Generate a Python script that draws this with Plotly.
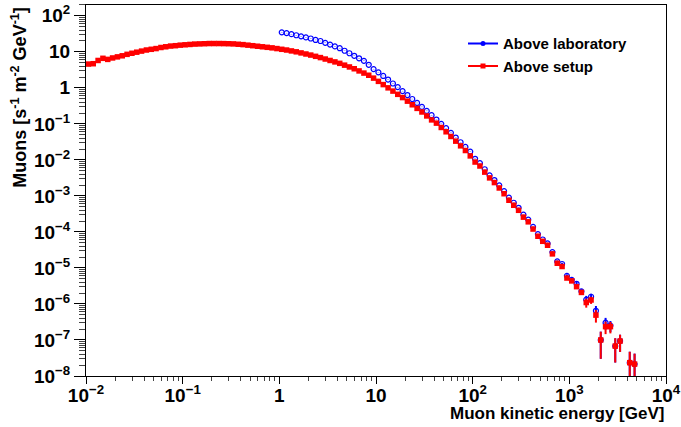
import plotly.graph_objects as go

# ---- binning: 20 log-spaced bins per decade starting at 10^-2 GeV ----
LOG_E_MIN = -2.0
BIN_WIDTH = 0.05
N_BINS = 114
bin_centers = [10 ** (LOG_E_MIN + BIN_WIDTH * (k + 0.5)) for k in range(N_BINS)]

# ---- "Above setup" (red), log10 of flux, bins 0..113 ----
setup_log = [
    0.66, 0.67, 0.76, 0.82, 0.79, 0.83, 0.86, 0.89, 0.93, 0.96,
    0.99, 1.02, 1.05, 1.07, 1.09, 1.12, 1.14, 1.16, 1.17, 1.185,
    1.195, 1.205, 1.215, 1.22, 1.225, 1.23, 1.23, 1.23, 1.228, 1.225,
    1.22, 1.21, 1.20, 1.185, 1.17, 1.155, 1.14, 1.125, 1.11, 1.09,
    1.07, 1.05, 1.025, 1.00, 0.97, 0.94, 0.91, 0.875, 0.84, 0.80,
    0.76, 0.72, 0.68, 0.63, 0.58, 0.53, 0.47, 0.41, 0.35, 0.27,
    0.18, 0.09, 0.00, -0.09, -0.18, -0.27, -0.37, -0.47, -0.57, -0.67,
    -0.78, -0.89, -0.98, -1.10, -1.22, -1.35, -1.48, -1.61, -1.74, -1.89,
    -2.06, -2.17, -2.34, -2.50, -2.63, -2.78, -2.94, -3.12, -3.26, -3.40,
    -3.59, -3.72, -3.92, -4.12, -4.26, -4.37, -4.61, -4.87, -4.96, -5.28,
    -5.36, -5.52, -5.68, -5.96, -5.89, -6.31, -7.00, -6.63, -6.63, -7.17,
    -7.03, None, -7.63, -7.67,
]
# relative statistical errors of the red points (only visible at high energy)
setup_relerr = [0.01] * 95 + [
    0.05, 0.06, 0.07, 0.08, 0.10, 0.11, 0.13, 0.15, 0.28, 0.22,
    0.38, 0.70, 0.38, 0.35, 0.65, 0.50, 0.0, 1.00, 0.95,
]

# ---- "Above laboratory" (blue), bins 40..113 ----
lab_first_bin = 40
lab_log = [
    1.54, 1.52, 1.49, 1.46, 1.43, 1.40, 1.37, 1.33, 1.30, 1.25,
    1.20, 1.15, 1.10, 1.03, 0.96, 0.89, 0.82, 0.75, 0.64, 0.52,
    0.43, 0.33, 0.23, 0.12, 0.02, -0.09, -0.20, -0.31, -0.42, -0.53,
    -0.64, -0.76, -0.88, -1.00, -1.12, -1.25, -1.38, -1.51, -1.64, -1.77,
    -1.97, -2.09, -2.26, -2.43, -2.56, -2.71, -2.87, -3.05, -3.19, -3.33,
    -3.52, -3.66, -3.86, -4.06, -4.21, -4.32, -4.56, -4.82, -4.89, -5.22,
    -5.33, -5.44, -5.65, -5.88, -5.80, -6.19, -7.00, -6.52, -6.60, -7.17,
    -7.03, None, -7.63, -7.67,
]
lab_relerr = [0.01] * 55 + [
    0.05, 0.06, 0.07, 0.08, 0.10, 0.11, 0.13, 0.15, 0.27, 0.21,
    0.36, 0.70, 0.36, 0.34, 0.65, 0.50, 0.0, 1.00, 0.95,
]

x_tickvals = [1e-2, 1e-1, 1, 10, 1e2, 1e3, 1e4]
x_ticktext = ["10<sup>−2</sup>", "10<sup>−1</sup>", "1", "10",
              "10<sup>2</sup>", "10<sup>3</sup>", "10<sup>4</sup>"]
y_tickvals = [1e-8, 1e-7, 1e-6, 1e-5, 1e-4, 1e-3, 1e-2, 1e-1, 1, 10, 1e2]
y_ticktext = ["10<sup>−8</sup>", "10<sup>−7</sup>", "10<sup>−6</sup>", "10<sup>−5</sup>",
              "10<sup>−4</sup>", "10<sup>−3</sup>", "10<sup>−2</sup>", "10<sup>−1</sup>",
              "1", "10", "10<sup>2</sup>"]

BLUE = "#0000ff"
RED = "#ff0000"
FONT = "Liberation Sans"


def to_lin(vals):
    return [None if v is None else 10 ** v for v in vals]


setup_y = to_lin(setup_log)
setup_err = [None if y is None else y * r for y, r in zip(setup_y, setup_relerr)]
lab_x = bin_centers[lab_first_bin:lab_first_bin + len(lab_log)]
lab_y = to_lin(lab_log)
lab_err = [None if y is None else y * r for y, r in zip(lab_y, lab_relerr)]

fig = go.Figure()
fig.add_trace(go.Scatter(
    x=lab_x, y=lab_y, mode="markers", name="Above laboratory", showlegend=False,
    marker=dict(symbol="circle-open", size=5, color=BLUE, line=dict(width=1.2, color=BLUE)),
    error_y=dict(type="data", array=lab_err, color=BLUE, thickness=2, width=0),
))
fig.add_trace(go.Scatter(
    x=bin_centers, y=setup_y, mode="markers", name="Above setup", showlegend=False,
    marker=dict(symbol="square", size=5.5, color=RED, line=dict(width=0)),
    error_y=dict(type="data", array=setup_err, color=RED, thickness=2, width=0),
))
# legend entries (ROOT "lp" style: line + marker)
fig.add_trace(go.Scatter(
    x=[None], y=[None], mode="lines+markers", name="Above laboratory",
    line=dict(color=BLUE, width=2),
    marker=dict(symbol="circle", size=5, color=BLUE),
))
fig.add_trace(go.Scatter(
    x=[None], y=[None], mode="lines+markers", name="Above setup",
    line=dict(color=RED, width=2),
    marker=dict(symbol="square", size=5, color=RED),
))

tickfont = dict(family=FONT, size=19, color="black", weight=700)
fig.update_layout(
    width=681, height=427,
    margin=dict(l=86, r=15, t=5, b=51),
    paper_bgcolor="white", plot_bgcolor="white",
    showlegend=True,
    legend=dict(x=0.65, y=0.94, xanchor="left", yanchor="top",
                bgcolor="rgba(0,0,0,0)", borderwidth=0,
                font=dict(family=FONT, size=15, color="black", weight=700),
                itemwidth=30, tracegroupgap=0),
    xaxis=dict(type="log", range=[-2, 4], tickmode="array", automargin=False,
               tickvals=x_tickvals, ticktext=x_ticktext,
               ticks="outside", ticklen=7, tickwidth=1, tickcolor="black",
               ticklabelstandoff=-5,
               minor=dict(ticks="outside", ticklen=4, tickwidth=1, tickcolor="#444", dtick="D1"),
               showline=True, linecolor="black", linewidth=1, mirror=True,
               showgrid=False, zeroline=False, tickfont=tickfont),
    yaxis=dict(type="log", range=[-8, 2.3], tickmode="array", automargin=False,
               tickvals=y_tickvals, ticktext=y_ticktext,
               ticks="outside", ticklen=11, tickwidth=1, tickcolor="black",
               minor=dict(ticks="outside", ticklen=6, tickwidth=1, tickcolor="#444", dtick="D1"),
               showline=True, linecolor="black", linewidth=1, mirror=True,
               showgrid=False, zeroline=False, tickfont=tickfont),
    annotations=[
        dict(text="Muons [s<sup>-1</sup> m<sup>-2</sup> GeV<sup>-1</sup>]",
             xref="paper", yref="paper", x=-0.115, y=1.0, xanchor="center", yanchor="top",
             textangle=-90, showarrow=False,
             font=dict(family=FONT, size=18, color="black", weight=700)),
        dict(text="Muon kinetic energy [GeV]",
             xref="paper", yref="paper", x=1.0, y=-0.1, xanchor="right", yanchor="middle",
             showarrow=False,
             font=dict(family=FONT, size=17, color="black", weight=700)),
    ],
)

fig.write_html("out.html")
